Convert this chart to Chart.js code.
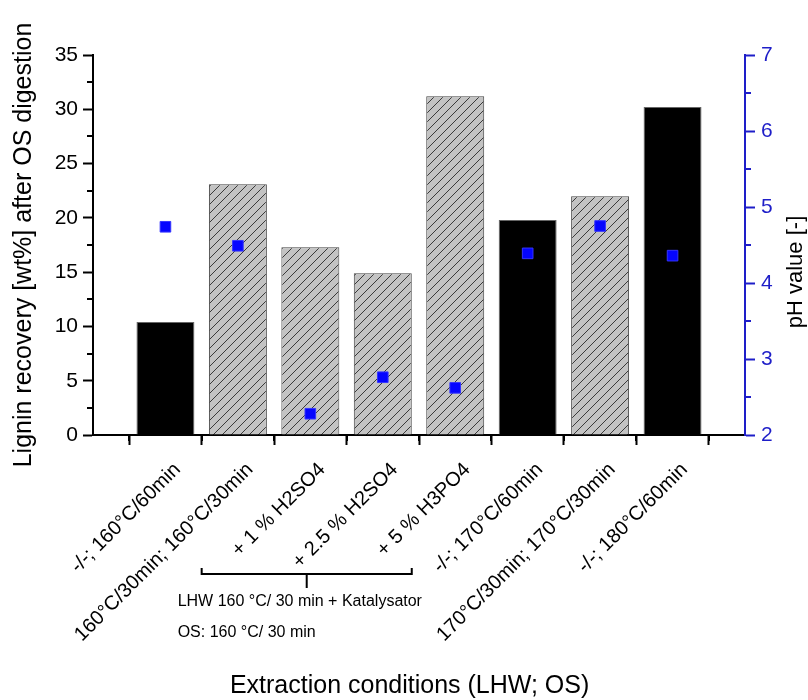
<!DOCTYPE html>
<html>
<head>
<meta charset="utf-8">
<script src="https://cdn.jsdelivr.net/npm/chart.js@4.4.0/dist/chart.umd.min.js"></script>
<style>
  html, body { margin: 0; background: #fff; }
</style>
</head>
<body>
<canvas id="chart" width="808" height="700"></canvas>
<script>
const conditions = [
  '-/-; 160°C/60min',
  '160°C/30min; 160°C/30min',
  '+ 1 % H2SO4',
  '+ 2.5 % H2SO4',
  '+ 5 % H3PO4',
  '-/-; 170°C/60min',
  '170°C/30min; 170°C/30min',
  '-/-; 180°C/60min'
];
const ligninRecovery = [10.4, 23.1, 17.3, 14.9, 31.2, 19.8, 22.0, 30.2];
const phValue = [4.74, 4.49, 2.28, 2.76, 2.62, 4.39, 4.75, 4.36];

const FONT = '"Liberation Sans", Arial, sans-serif';
const BLUE = '#1e1ec8';

const canvas = document.getElementById('chart');
const ctx = canvas.getContext('2d');

// grey fill with "/" hatching for the LHW pretreated samples
function makeHatch() {
  const c = document.createElement('canvas');
  c.width = c.height = 9;
  const g = c.getContext('2d');
  g.fillStyle = '#c3c3c3';
  g.fillRect(0, 0, 9, 9);
  g.strokeStyle = '#3a3a3a';
  g.lineWidth = 1;
  g.beginPath();
  g.moveTo(0, 9); g.lineTo(9, 0);
  g.moveTo(-1, 1); g.lineTo(1, -1);
  g.moveTo(8, 10); g.lineTo(10, 8);
  g.stroke();
  return ctx.createPattern(c, 'repeat');
}
const hatch = makeHatch();

// minor ticks, bracket annotation and the axis titles that need custom placement
const extras = {
  id: 'extras',
  afterDraw(chart) {
    const { ctx, scales } = chart;
    const { x, y, ph } = scales;
    ctx.save();
    ctx.lineWidth = 2;
    ctx.strokeStyle = '#000';
    ctx.beginPath();
    for (let v = 0.5; v < 9; v += 1) {
      const px = Math.round(x.getPixelForValue(v));
      ctx.moveTo(px, x.top); ctx.lineTo(px, x.top + 6);
    }
    for (let v = 2.5; v < 35; v += 5) {
      const py = Math.round(y.getPixelForValue(v));
      ctx.moveTo(y.right - 6, py); ctx.lineTo(y.right, py);
    }
    ctx.stroke();
    ctx.strokeStyle = BLUE;
    ctx.beginPath();
    for (let v = 2.5; v < 7; v += 1) {
      const py = Math.round(ph.getPixelForValue(v));
      ctx.moveTo(ph.left, py); ctx.lineTo(ph.left + 6, py);
    }
    ctx.stroke();

    // bracket under the catalyst samples
    const bl = x.getPixelForValue(1.5), br = x.getPixelForValue(4.4), bm = x.getPixelForValue(2.95);
    const by = 574;
    ctx.strokeStyle = '#000';
    ctx.lineWidth = 2;
    ctx.beginPath();
    ctx.moveTo(bl, by - 6); ctx.lineTo(bl, by); ctx.lineTo(br, by); ctx.lineTo(br, by - 6);
    ctx.moveTo(bm, by); ctx.lineTo(bm, by + 14);
    ctx.stroke();
    ctx.fillStyle = '#000';
    ctx.font = '16px ' + FONT;
    ctx.textBaseline = 'middle';
    ctx.fillText('LHW 160 °C/ 30 min + Katalysator', bl - 24, 602);
    ctx.fillText('OS: 160 °C/ 30 min', bl - 24, 633);

    // x axis title
    ctx.textAlign = 'center';
    ctx.font = '25px ' + FONT;
    ctx.fillText('Extraction conditions (LHW; OS)', x.getPixelForValue(4.37), 686);

    // right axis title, reading bottom to top
    ctx.translate(796, 272);
    ctx.rotate(-Math.PI / 2);
    ctx.font = '22px ' + FONT;
    ctx.fillText('pH value [-]', 0, 0);
    ctx.restore();
  }
};

new Chart(canvas, {
  data: {
    datasets: [
      {
        type: 'line',
        label: 'pH value',
        data: conditions.map((c, i) => ({ x: i + 1, y: phValue[i] })),
        yAxisID: 'ph',
        showLine: false,
        pointStyle: 'rect',
        pointRadius: 7.5,
        pointBackgroundColor: '#0505ff',
        pointBorderColor: '#3535ff',
        pointBorderWidth: 1,
        order: 0
      },
      {
        type: 'bar',
        label: 'Lignin recovery',
        data: conditions.map((c, i) => ({ x: i + 1, y: ligninRecovery[i] })),
        yAxisID: 'y',
        backgroundColor: conditions.map(c => c.startsWith('-/-') ? '#000' : hatch),
        borderColor: conditions.map(c => c.startsWith('-/-') ? '#666' : '#444'),
        borderWidth: 1,
        borderSkipped: 'bottom',
        categoryPercentage: 1,
        barPercentage: 0.8,
        order: 1
      }
    ]
  },
  options: {
    responsive: false,
    animation: false,
    layout: { padding: { top: 55, left: 0, right: 0, bottom: 0 } },
    plugins: { legend: { display: false }, tooltip: { enabled: false } },
    scales: {
      x: {
        type: 'linear',
        position: 'bottom',
        min: 0,
        max: 9,
        offset: false,
        afterFit: s => { s.height = 265; },
        ticks: {
          stepSize: 1,
          autoSkip: false,
          minRotation: 45,
          maxRotation: 45,
          padding: 13,
          labelOffset: 12,
          color: '#000',
          font: { family: FONT, size: 20 },
          callback: v => conditions[v - 1] ?? ''
        },
        grid: { drawOnChartArea: false, tickLength: 10, tickColor: '#000', tickWidth: 2 },
        border: { color: '#000', width: 2 }
      },
      y: {
        position: 'left',
        min: 0,
        max: 35,
        afterFit: s => { s.width = 93; },
        ticks: { stepSize: 5, padding: 5, color: '#000', font: { family: FONT, size: 21 } },
        grid: { drawOnChartArea: false, tickLength: 10, tickColor: '#000', tickWidth: 2 },
        border: { color: '#000', width: 2 },
        title: {
          display: true,
          text: 'Lignin recovery [wt%] after OS digestion',
          color: '#000',
          font: { family: FONT, size: 25 },
          padding: { top: 9, bottom: 0 }
        }
      },
      ph: {
        position: 'right',
        min: 2,
        max: 7,
        afterFit: s => { s.width = 63; },
        ticks: { stepSize: 1, padding: 6, color: BLUE, font: { family: FONT, size: 21 } },
        grid: { drawOnChartArea: false, tickLength: 10, tickColor: BLUE, tickWidth: 2 },
        border: { color: BLUE, width: 2 }
      }
    }
  },
  plugins: [extras]
});
</script>
</body>
</html>
